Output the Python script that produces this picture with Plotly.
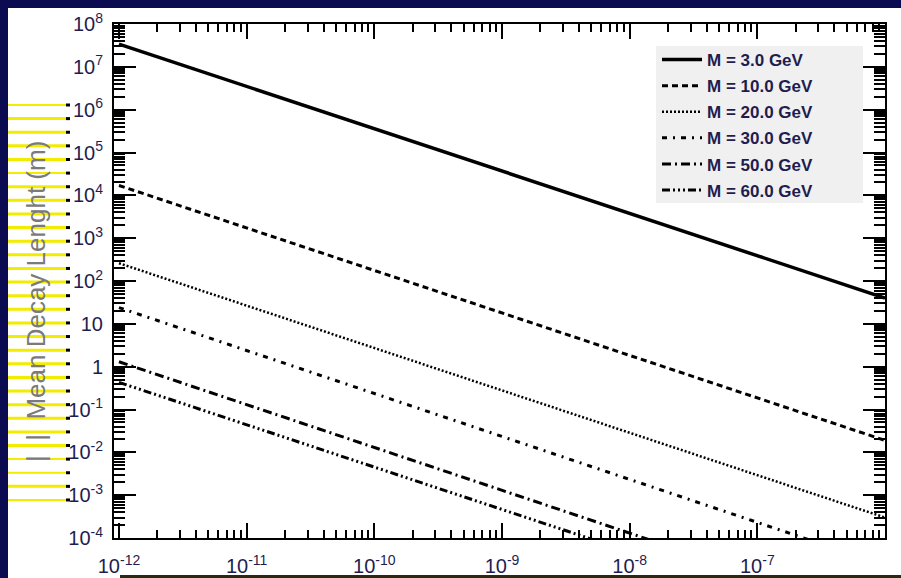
import plotly.graph_objects as go

# ---------------- data ----------------
coupling_ends = [1e-12, 1e-6]
series_names = ["M = 3.0 GeV", "M = 10.0 GeV", "M = 20.0 GeV",
                "M = 30.0 GeV", "M = 50.0 GeV", "M = 60.0 GeV"]
len_m3 = [3.4e7, 40.0]
len_m10 = [1.7e4, 1.9e-2]
len_m20 = [2.6e2, 3.0e-4]
len_m30 = [2.4e1, 2.3e-5]
len_m50 = [1.3, 1.3e-6]
len_m60 = [4.3e-1, 5.0e-7]

y_tick_vals = [1e-4, 1e-3, 1e-2, 1e-1, 1, 10, 1e2, 1e3, 1e4, 1e5, 1e6, 1e7, 1e8]
y_tick_text = ["10<sup>-4</sup>", "10<sup>-3</sup>", "10<sup>-2</sup>", "10<sup>-1</sup>",
               "1", "10", "10<sup>2</sup>", "10<sup>3</sup>", "10<sup>4</sup>",
               "10<sup>5</sup>", "10<sup>6</sup>", "10<sup>7</sup>", "10<sup>8</sup>"]
x_tick_vals = [1e-12, 1e-11, 1e-10, 1e-9, 1e-8, 1e-7, 1e-6]
x_tick_text = ["10<sup>-12</sup>", "10<sup>-11</sup>", "10<sup>-10</sup>", "10<sup>-9</sup>",
               "10<sup>-8</sup>", "10<sup>-7</sup>", "10<sup>-6</sup>"]

# ---------------- style ----------------
W, H = 901, 578
ML, MR, MT, MB = 114, 16, 24, 40
PW, PH = W - ML - MR, H - MT - MB


def X(px):
    return (px - ML) / PW


def Y(py):
    return (H - MB - py) / PH


series = [
    (len_m3, dict(width=3.5, dash="solid")),
    (len_m10, dict(width=3, dash="6px,4px")),
    (len_m20, dict(width=2.5, dash="2px,2px")),
    (len_m30, dict(width=3, dash="5px,6px,2px,6px")),
    (len_m50, dict(width=3, dash="9px,4px,2px,4px")),
    (len_m60, dict(width=3, dash="8px,3px,2px,3px,2px,3px,2px,3px")),
]

fig = go.Figure()
for name, (vals, ls) in zip(series_names, series):
    fig.add_trace(go.Scatter(
        x=coupling_ends, y=vals, mode="lines", name=name, legendgroup=name,
        line=dict(color="black", **ls),
    ))

navy = "#1f1d4f"
bg_navy = "#0b0b52"
shapes = []
# dark slide background strips around the white page
shapes.append(dict(type="rect", xref="paper", yref="paper", x0=X(0), x1=X(8),
                   y0=Y(H), y1=Y(0), fillcolor=bg_navy, line=dict(width=0), layer="below"))
shapes.append(dict(type="rect", xref="paper", yref="paper", x0=X(0), x1=X(W),
                   y0=Y(8), y1=Y(0), fillcolor=bg_navy, line=dict(width=0), layer="below"))
shapes.append(dict(type="rect", xref="paper", yref="paper", x0=X(120), x1=X(W),
                   y0=Y(H), y1=Y(575), fillcolor="#2a2a14", line=dict(width=0), layer="below"))
# legend box
shapes.append(dict(type="rect", xref="paper", yref="paper", x0=X(656), x1=X(863),
                   y0=Y(203), y1=Y(46), fillcolor="#f0f0f0", line=dict(width=0), layer="below"))
# yellow stripes behind the axis title
thin = {0, 5, 26, 27, 29}
for i in range(30):
    py = 105 + i * 13.62
    shapes.append(dict(type="line", xref="paper", yref="paper", x0=X(8), x1=X(67),
                       y0=Y(py), y1=Y(py),
                       line=dict(color="#f2ec00", width=2 if i in thin else 3), layer="below"))
    shapes.append(dict(type="rect", xref="paper", yref="paper", x0=X(66), x1=X(70),
                       y0=Y(py + 1.5), y1=Y(py - 1.5), fillcolor="black",
                       line=dict(width=0), layer="below"))

axis_common = dict(
    type="log", showline=True, linecolor="black", linewidth=2, mirror="ticks",
    ticks="inside", tickcolor="black", tickwidth=1.5, showgrid=False, zeroline=False,
    automargin=False,
    tickfont=dict(family="Liberation Sans", size=20, color=navy),
)

fig.update_layout(
    width=W, height=H,
    margin=dict(l=ML, r=MR, t=MT, b=MB, autoexpand=False),
    paper_bgcolor="white", plot_bgcolor="white",
    shapes=shapes,
    xaxis=dict(range=[-12.039, -6], tickvals=x_tick_vals, ticktext=x_tick_text,
               ticklen=15, ticklabelstandoff=9,
               minor=dict(ticks="inside", ticklen=8, tickcolor="black", tickwidth=1.5,
                          dtick="D1", showgrid=False),
               **axis_common),
    yaxis=dict(range=[-4, 8], tickvals=y_tick_vals, ticktext=y_tick_text,
               ticklen=22, ticklabelstandoff=5,
               minor=dict(ticks="inside", ticklen=11, tickcolor="black", tickwidth=1.5,
                          dtick="D1", showgrid=False),
               **axis_common),
    legend=dict(x=X(657), y=Y(42), xanchor="left", yanchor="top", itemwidth=40,
                bgcolor="rgba(0,0,0,0)", borderwidth=0, tracegroupgap=1,
                font=dict(family="Liberation Sans", size=17, color=navy, weight="bold")),
    showlegend=True,
    annotations=[dict(text="|  |  Mean Decay Lenght (m)", xref="paper", yref="paper",
                      x=X(36), y=Y(302), textangle=-90, showarrow=False,
                      xanchor="center", yanchor="middle",
                      font=dict(family="Liberation Sans", size=26, color="#7a7a7a"))],
)

fig.write_html("out.html")
